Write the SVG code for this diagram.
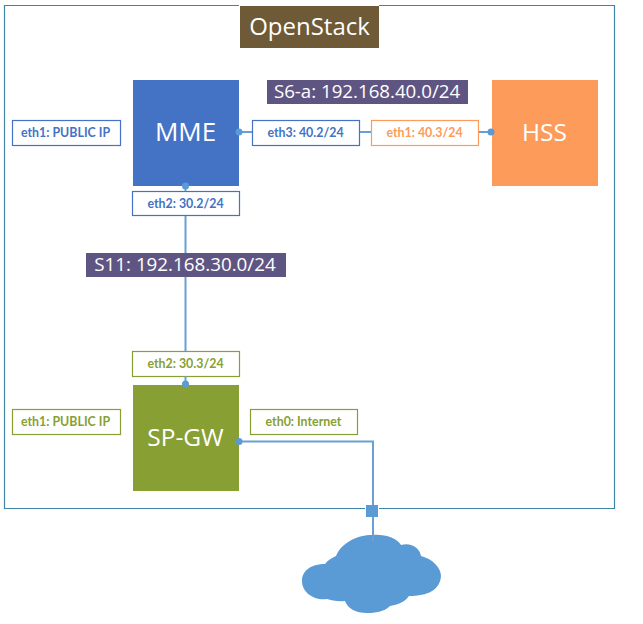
<svg xmlns="http://www.w3.org/2000/svg" width="643" height="624" viewBox="0 0 643 624">
<style>
.box{fill:#fff;stroke-width:1.2}
.lbl{font-family:"Lato","Liberation Sans",sans-serif;font-weight:700;font-size:12.4px;text-anchor:middle}
.big{font-family:"Open Sans","Noto Sans",sans-serif;fill:#fff;text-anchor:middle}
.blue{stroke:#4472c4}.bluet{fill:#4472c4}
.org{stroke:#fd9b5a}.orgt{fill:#fd9b5a}
.grn{stroke:#879f33}.grnt{fill:#879f33}
.wire{fill:none;stroke:#6a9fd6;stroke-width:2}
.dot{fill:#5b9bd5}
.frame{fill:none;stroke:#3f86a6;stroke-width:1.2}
</style>
<rect width="643" height="624" fill="#fff"/>
<path id="frame" class="frame" d="M239 5.500H4.500V508.500H365M379 508.500H614.500V5.500H379"/>
<g id="openstack"><rect x="240" y="6" width="139" height="42" fill="#6e5a36"/><text class="big" x="309.500" y="35" font-size="24">OpenStack</text></g>
<g id="mme"><rect x="133" y="80" width="106" height="106" fill="#4472c4"/><text class="big" x="185.500" y="141" font-size="26">MME</text></g>
<g id="hss"><rect x="492" y="80" width="106" height="106" fill="#fd9b5a"/><text class="big" x="544.500" y="141" font-size="24.500">HSS</text></g>
<g id="spgw"><rect x="133" y="385" width="106" height="106" fill="#879f33"/><text class="big" x="185.500" y="446" font-size="24.500">SP-GW</text></g>
<g id="s6a"><rect x="267" y="80" width="201" height="24" fill="#5f5583"/><text class="big" x="367" y="98" font-size="18.700">S6-a: 192.168.40.0/24</text></g>
<g id="s11"><rect x="86" y="253" width="200" height="24" fill="#5f5583"/><text class="big" x="185" y="271" font-size="18.800">S11: 192.168.30.0/24</text></g>
<g id="mme-eth1"><rect class="box blue" x="12.500" y="120.500" width="108" height="25"/><text class="lbl bluet" x="65.500" y="137">eth1: PUBLIC IP</text></g>
<g id="mme-eth3"><rect class="box blue" x="252.500" y="120.500" width="107" height="25"/><text class="lbl bluet" x="305.500" y="137">eth3: 40.2/24</text></g>
<g id="hss-eth1"><rect class="box org" x="371.500" y="120.500" width="107" height="25"/><text class="lbl orgt" x="424.500" y="137">eth1: 40.3/24</text></g>
<g id="mme-eth2"><rect class="box blue" x="132.500" y="191.500" width="107" height="24"/><text class="lbl bluet" x="185.500" y="207.500">eth2: 30.2/24</text></g>
<g id="sgw-eth2"><rect class="box grn" x="132.500" y="351.500" width="107" height="25"/><text class="lbl grnt" x="185.500" y="368">eth2: 30.3/24</text></g>
<g id="sgw-eth1"><rect class="box grn" x="12.500" y="409.500" width="108" height="25"/><text class="lbl grnt" x="65.500" y="426">eth1: PUBLIC IP</text></g>
<g id="sgw-eth0"><rect class="box grn" x="250.500" y="409.500" width="107" height="25"/><text class="lbl grnt" x="303.500" y="426">eth0: Internet</text></g>
<g id="port"><rect x="366" y="505" width="12" height="12" fill="#5b9bd5"/></g>
<g id="cloud"><path fill="#5b9bd5" d="M336 556C342 542 358 535 372 535C385 534 397 538 401 545C411 542 420 548 421 556C433 559 441 568 441 576C440 590 428 596 409 596C404 603 396 605 390 606C384 612 375 613 367 613C356 613 348 609 345 601C338 602 331 600 327 599C315 601 302 593 302 581C302 570 312 564 325 564C328 560 332 558 336 556Z"/></g>
<g id="connectors">
<path class="wire" d="M239 132H252M360 132H371M479 132H491"/>
<path class="wire" d="M185.500 186V191M185.500 216V253M185.500 277V351M185.500 376V385"/>
<path class="wire" d="M239 441.500H373V505M373 517V542"/>
<circle class="dot" cx="239" cy="132" r="3.500"/>
<circle class="dot" cx="491" cy="132" r="3.500"/>
<circle class="dot" cx="185.500" cy="186" r="3.500"/>
<circle class="dot" cx="185.500" cy="384" r="3.500"/>
<circle class="dot" cx="239" cy="441.500" r="3.500"/>
</g>
</svg>
